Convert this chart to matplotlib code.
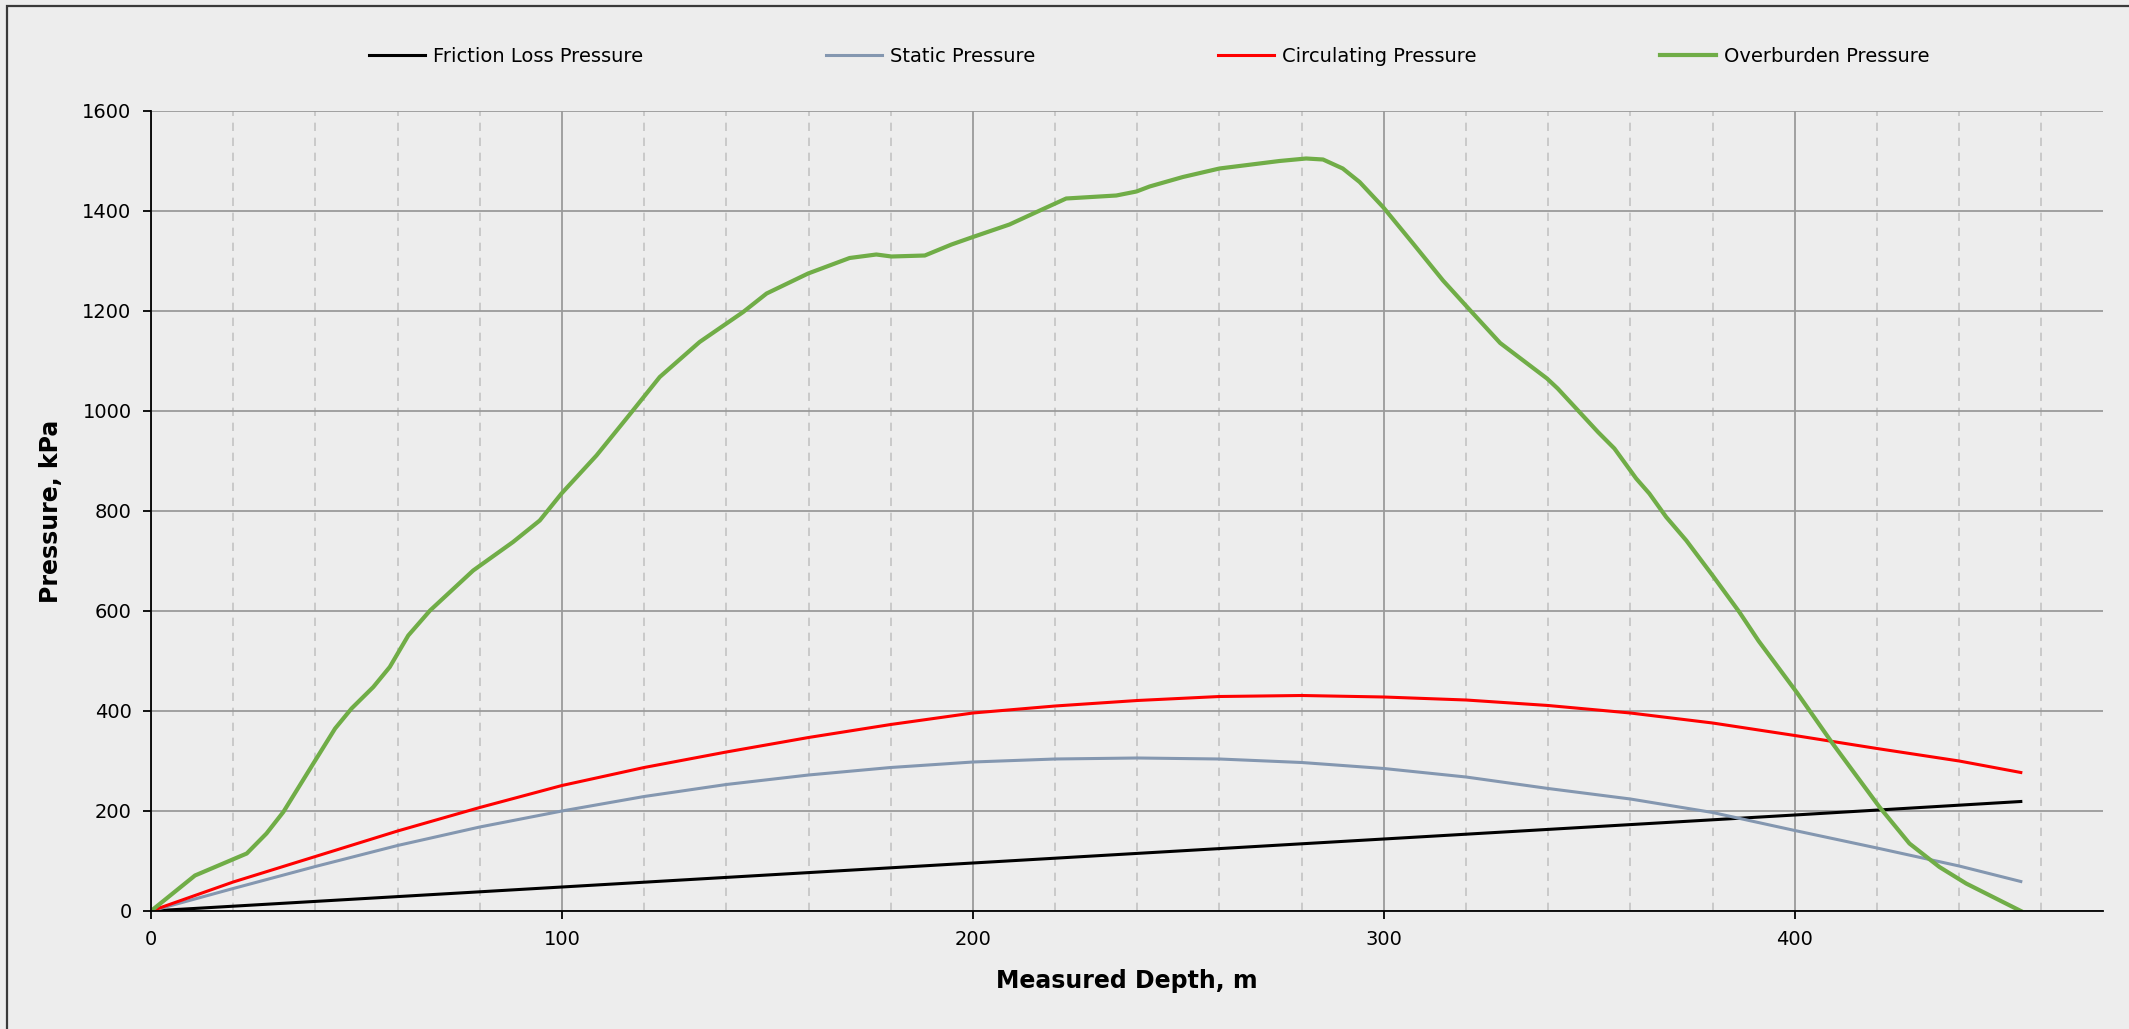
import numpy as np
import matplotlib
matplotlib.use('Agg')
import matplotlib.pyplot as plt
from matplotlib.ticker import MultipleLocator
from matplotlib.patches import Rectangle

plt.rcParams['font.family'] = ['Liberation Sans Narrow', 'DejaVu Sans']

# measured depth (m) and pressures (kPa)
md_fric = [0, 100, 200, 300, 400, 455]
p_fric = [0, 48, 96, 144, 192, 219]

md_smooth = [0, 20, 40, 60, 80, 100, 120, 140, 160, 180, 200, 220, 240, 260,
             280, 300, 320, 340, 360, 380, 400, 420, 440, 455]
p_static = [0, 45, 89, 131, 168, 200, 229, 253, 272, 287, 298, 304, 306, 304,
            297, 285, 268, 245, 224, 197, 161, 126, 90, 59]
p_circ = [0, 58, 109, 160, 207, 251, 287, 318, 347, 373, 396, 410, 421, 429,
          431, 428, 422, 411, 396, 376, 351, 325, 300, 277]

md_over = [0, 10.7, 23.3, 28.1, 32.2, 39.5, 44.8, 48.8, 54.1, 58.1, 62.6, 67.9,
           78.4, 88.1, 94.6, 99.9, 108.4, 115.7, 123.8, 133.5, 144.1, 149.8,
           159.9, 170, 176.5, 180.2, 188.3, 194.8, 200, 208.9, 216.3, 222.7,
           234.9, 239.8, 243, 251.1, 260, 274.6, 281.1, 285.2, 290, 294.1,
           299.8, 307.1, 314.4, 321.6, 328.3, 339.7, 342.3, 352.1, 356.1,
           361.4, 364.6, 368.7, 373.6, 380, 386.5, 391.2, 400.5, 409.2, 420.6,
           427.9, 435.2, 441.7, 455]
p_over = [0, 71, 115, 155, 198, 295, 365, 405, 448, 488, 551, 601,
          681, 738, 781, 835, 911, 985, 1068, 1138, 1198, 1235,
          1275, 1306, 1313, 1309, 1311, 1333, 1348, 1373, 1401, 1425,
          1431, 1439, 1449, 1468, 1485, 1500, 1505, 1503, 1485, 1458,
          1408, 1335, 1261, 1196, 1136, 1065, 1045, 958, 925,
          865, 835, 788, 741, 671, 598, 540, 437, 335, 208,
          135, 88, 55, 0]

W, H = 2129, 1029
fig = plt.figure(figsize=(W / 100, H / 100), dpi=100, facecolor='#EDEDED')
ax = fig.add_axes([151 / W, 1 - 911 / H, (2103 - 151) / W, (911 - 111) / H])
ax.set_facecolor('#EDEDED')

# outer chart frame (cut off at the right and bottom)
fig.patches.append(Rectangle((7 / W, -0.1), 1.2, 1 - 6 / H + 0.1, transform=fig.transFigure,
                             fill=False, edgecolor='#3A3A3A', linewidth=1.6))

ax.plot(md_fric, p_fric, color='black', lw=2.2, label='Friction Loss Pressure')
ax.plot(md_smooth, p_static, color='#8497B0', lw=2.2, label='Static Pressure')
ax.plot(md_smooth, p_circ, color='#FF0000', lw=2.2, label='Circulating Pressure')
ax.plot(md_over, p_over, color='#70AD47', lw=3.0, label='Overburden Pressure')

ax.set_xlim(0, 475)
ax.set_ylim(0, 1600)
ax.xaxis.set_major_locator(MultipleLocator(100))
ax.xaxis.set_minor_locator(MultipleLocator(20))
ax.yaxis.set_major_locator(MultipleLocator(200))

ax.grid(which='major', axis='both', color='#9A9A9A', lw=1.3)
ax.grid(which='minor', axis='x', color='#C4C4C4', lw=1.2, ls=(0, (5, 4)))
ax.set_axisbelow(True)

for s in ['top', 'right']:
    ax.spines[s].set_visible(False)
ax.spines['left'].set_color('black')
ax.spines['bottom'].set_color('black')
ax.spines['left'].set_linewidth(1.3)
ax.spines['bottom'].set_linewidth(1.3)
ax.tick_params(which='major', direction='out', length=6, width=1.3, labelsize=14, pad=8)
ax.tick_params(which='minor', length=0)

ax.set_xlabel('Measured Depth, m', fontsize=17, fontweight='bold', labelpad=14)
ax.set_ylabel('Pressure, kPa', fontsize=17, fontweight='bold', labelpad=14)

fig.legend(loc='center', bbox_to_anchor=(1149 / W, 1 - 56 / H), ncol=4, frameon=False,
           fontsize=14, handlelength=2.9, handletextpad=0.4, columnspacing=9.4)

fig.savefig('out.png', dpi=100, facecolor=fig.get_facecolor())
